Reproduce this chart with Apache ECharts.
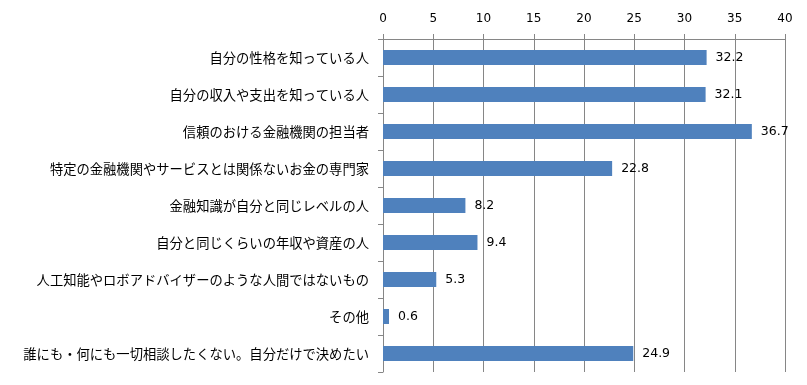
<!DOCTYPE html>
<html><head><meta charset="utf-8">
<script src="https://cdn.jsdelivr.net/npm/echarts@6/dist/echarts.min.js"></script>
<style>html,body{margin:0;padding:0;background:#fff}#c{width:807px;height:385px}</style>
</head><body><div id="c"></div>
<script>
const categories = ['自分の性格を知っている人','自分の収入や支出を知っている人','信頼のおける金融機関の担当者','特定の金融機関やサービスとは関係ないお金の専門家','金融知識が自分と同じレベルの人','自分と同じくらいの年収や資産の人','人工知能やロボアドバイザーのような人間ではないもの','その他','誰にも・何にも一切相談したくない。自分だけで決めたい'];
const values = [32.2, 32.1, 36.7, 22.8, 8.2, 9.4, 5.3, 0.6, 24.9];
const font = '"Noto Sans CJK JP", "Noto Sans", sans-serif';
const numFont = '"DejaVu Sans", Verdana, sans-serif';
const chart = echarts.init(document.getElementById('c'));
chart.setOption({
  animation: false,
  grid: {left: 383, right: 22, top: 39, bottom: 13},
  xAxis: {
    type: 'value', position: 'top', min: 0, max: 40, interval: 5,
    axisLine: {show: true, lineStyle: {color: '#868686'}},
    axisTick: {show: true, length: 5, lineStyle: {color: '#868686'}},
    axisLabel: {color: '#000', fontSize: 12, fontFamily: numFont, margin: 14},
    splitLine: {show: true, lineStyle: {color: '#868686'}}
  },
  yAxis: {
    type: 'category', data: categories, inverse: true,
    axisLine: {show: true, lineStyle: {color: '#868686'}},
    axisTick: {show: true, length: 5, lineStyle: {color: '#868686'}},
    axisLabel: {color: '#000', fontSize: 13.3, fontFamily: font, margin: 14}
  },
  series: [{
    type: 'bar', data: values, barWidth: 15,
    itemStyle: {color: '#4F81BD'},
    label: {show: true, position: 'right', distance: 9, color: '#000', fontSize: 12.5, fontFamily: numFont, formatter: p => p.value.toFixed(1)}
  }]
});
</script></body></html>
